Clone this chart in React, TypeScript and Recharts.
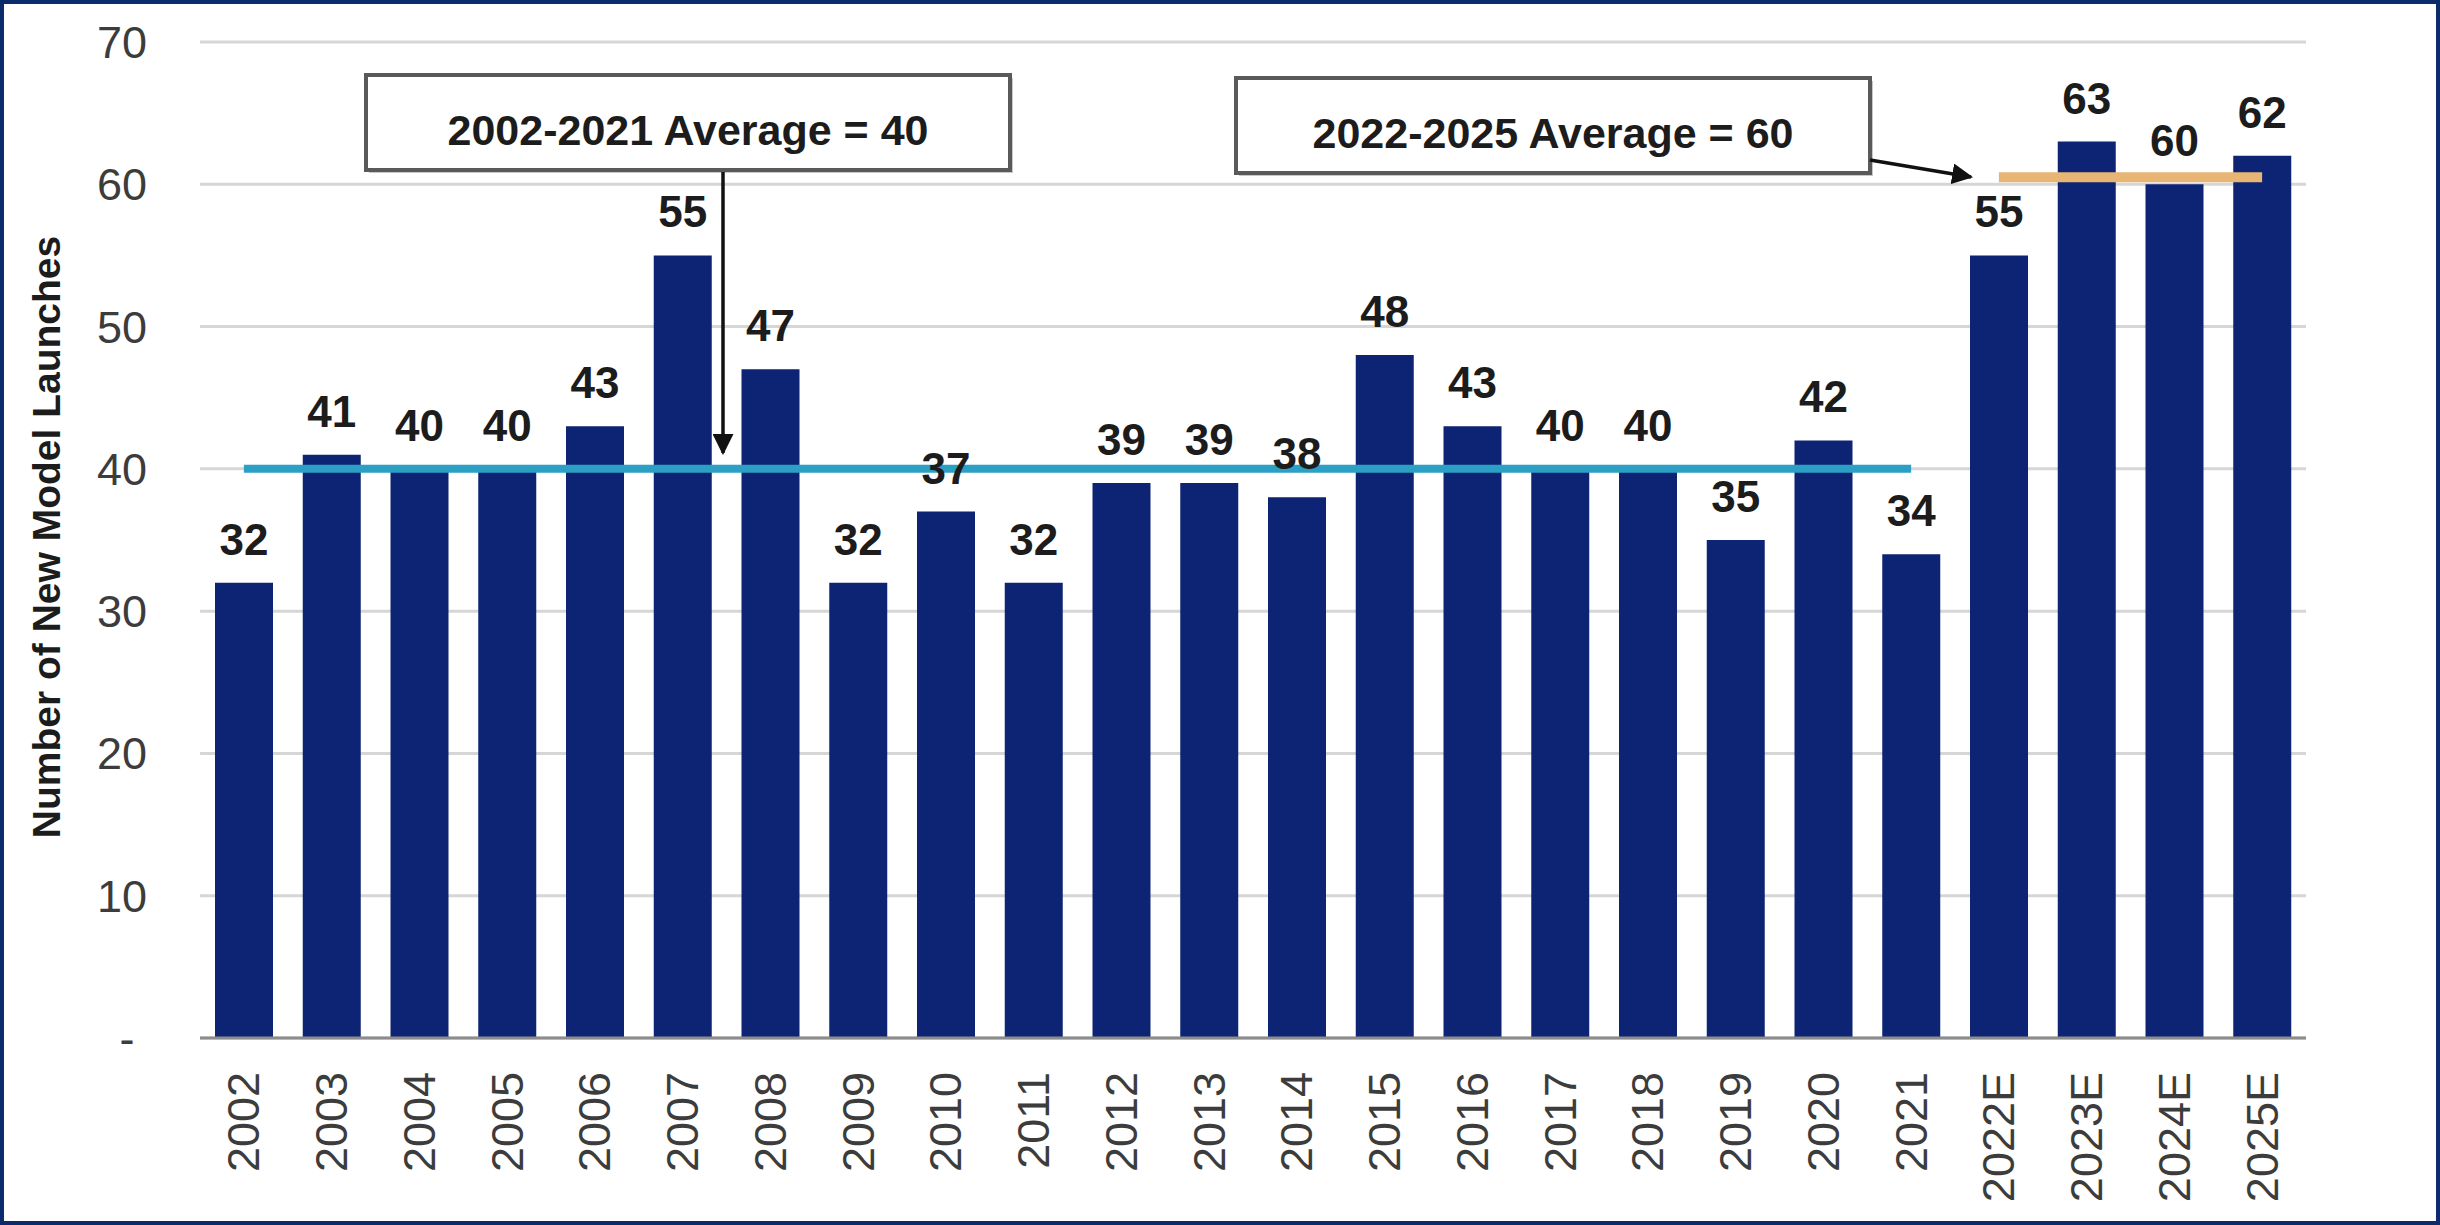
import React from 'react'
import {
  Bar,
  BarChart,
  CartesianGrid,
  LabelList,
  ReferenceLine,
  XAxis,
  YAxis
} from 'recharts'

const years = [
  '2002', '2003', '2004', '2005', '2006', '2007', '2008', '2009', '2010', '2011',
  '2012', '2013', '2014', '2015', '2016', '2017', '2018', '2019', '2020', '2021',
  '2022E', '2023E', '2024E', '2025E'
]
const launches = [
  32, 41, 40, 40, 43, 55, 47, 32, 37, 32,
  39, 39, 38, 48, 43, 40, 40, 35, 42, 34,
  55, 63, 60, 62
]
const yTicks = [0, 10, 20, 30, 40, 50, 60, 70]

const historicAverage = 40
const forecastAverage = 60.5
const historicRange = ['2002', '2021']
const forecastRange = ['2022E', '2025E']
const historicNote = '2002-2021 Average = 40'
const forecastNote = '2022-2025 Average = 60'
const yTitle = 'Number of New Model Launches'

const theme = {
  font: "'Liberation Sans', Arial, Helvetica, sans-serif",
  bar: '#0c2473',
  teal: '#2b9fc4',
  orange: '#e9b574',
  grid: '#d6d6d6',
  axis: '#8c8c8c',
  tickText: '#3c3c3c',
  labelText: '#1c1c1c',
  frame: '#0b2b6b',
  noteBorder: '#5a5a5a'
}

const data = years.map((year, i) => ({ year, launches: launches[i] }))

const XTick = (props: any) => {
  const { x, y, payload } = props
  return (
    <text
      x={x}
      y={y}
      transform={`rotate(-90, ${x}, ${y})`}
      textAnchor="end"
      dominantBaseline="central"
      fontFamily={theme.font}
      fontSize={45}
      fill={theme.tickText}
    >
      {payload.value}
    </text>
  )
}

const NoteBox = (props: { x: number; y: number; w: number; h: number; text: string }) => (
  <g>
    <rect x={props.x + 3} y={props.y + 3} width={props.w} height={props.h} fill="#c8c8c8" />
    <rect
      x={props.x}
      y={props.y}
      width={props.w}
      height={props.h}
      fill="#ffffff"
      stroke={theme.noteBorder}
      strokeWidth={4}
    />
    <text
      x={props.x + props.w / 2}
      y={props.y + 70}
      textAnchor="middle"
      fontFamily={theme.font}
      fontWeight="bold"
      fontSize={43}
      fill={theme.labelText}
    >
      {props.text}
    </text>
  </g>
)

export default function App(): JSX.Element {
  return (
    <div style={{ position: 'absolute', left: 0, top: 0, width: 2440, height: 1225, background: '#ffffff' }}>
      <BarChart
        width={2440}
        height={1225}
        data={data}
        margin={{ top: 42, right: 134, bottom: 0, left: 80 }}
      >
        <CartesianGrid vertical={false} stroke={theme.grid} strokeWidth={3} />
        <XAxis
          dataKey="year"
          interval={0}
          height={187}
          tickLine={false}
          tickMargin={28}
          tick={<XTick />}
          axisLine={{ stroke: theme.axis, strokeWidth: 3 }}
        />
        <YAxis
          width={120}
          domain={[0, 70]}
          ticks={yTicks}
          axisLine={false}
          tickLine={false}
          tickMargin={47}
          tickFormatter={(v: number) => (v === 0 ? '-\u00a0' : String(v))}
          tick={{ fontFamily: theme.font, fontSize: 45, fill: theme.tickText }}
        />
        <Bar dataKey="launches" fill={theme.bar} barSize={58} isAnimationActive={false}>
          <LabelList
            dataKey="launches"
            position="top"
            offset={28}
            fontFamily={theme.font}
            fontWeight="bold"
            fontSize={44}
            fill={theme.labelText}
          />
        </Bar>
        <ReferenceLine
          segment={[
            { x: historicRange[0], y: historicAverage },
            { x: historicRange[1], y: historicAverage }
          ]}
          stroke={theme.teal}
          strokeWidth={8}
        />
        <ReferenceLine
          segment={[
            { x: forecastRange[0], y: forecastAverage },
            { x: forecastRange[1], y: forecastAverage }
          ]}
          stroke={theme.orange}
          strokeWidth={10}
        />
      </BarChart>
      <svg
        width={2440}
        height={1225}
        style={{ position: 'absolute', left: 0, top: 0, pointerEvents: 'none' }}
      >
        <defs>
          <marker id="head" viewBox="0 0 10 10" refX="9" refY="5" markerWidth="6" markerHeight="6" orient="auto">
            <path d="M0,0 L10,5 L0,10 z" fill="#111" />
          </marker>
        </defs>
        <rect x={2} y={2} width={2436} height={1221} fill="none" stroke={theme.frame} strokeWidth={4} />
        <text
          transform="translate(60, 537) rotate(-90)"
          textAnchor="middle"
          fontFamily={theme.font}
          fontWeight="bold"
          fontSize={39}
          fill={theme.labelText}
        >
          {yTitle}
        </text>
        <NoteBox x={366} y={75} w={644} h={95} text={historicNote} />
        <NoteBox x={1236} y={78} w={634} h={95} text={forecastNote} />
        <line x1={723} y1={172} x2={723} y2={453} stroke="#111" strokeWidth={3.5} markerEnd="url(#head)" />
        <line x1={1870} y1={160} x2={1971} y2={177} stroke="#111" strokeWidth={3.5} markerEnd="url(#head)" />
      </svg>
    </div>
  )
}
